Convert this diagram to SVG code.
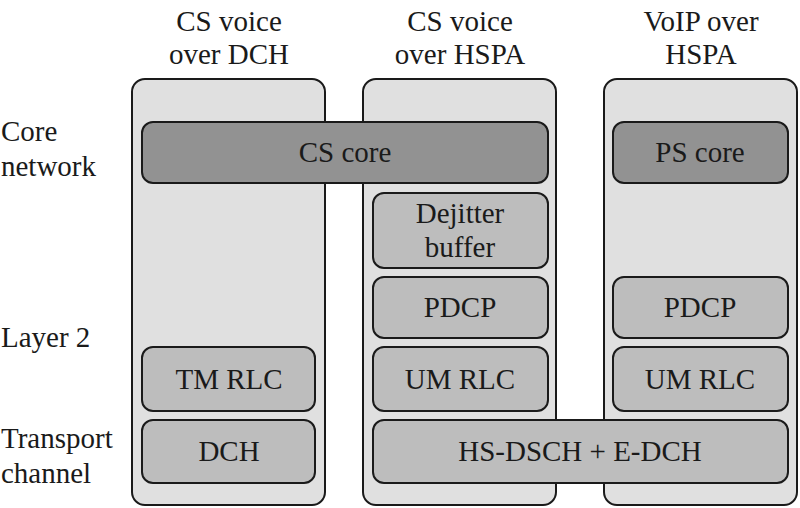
<svg xmlns="http://www.w3.org/2000/svg" width="800" height="508" viewBox="0 0 800 508">
<style>
.col{fill:#e0e0e0;stroke:#1a1a1a;stroke-width:2}
.dk{fill:#929292;stroke:#1a1a1a;stroke-width:2}
.lt{fill:#bdbdbd;stroke:#1a1a1a;stroke-width:2}
</style>
<rect width="800" height="508" fill="#fff"/>
<g id="labels" font-family="Liberation Serif, serif" font-size="29" fill="#1a1a1a">
<text x="1" y="141">Core</text>
<text x="1" y="176">network</text>
<text x="1" y="347">Layer 2</text>
<text x="1" y="448">Transport</text>
<text x="1" y="483">channel</text>
</g>
<g id="col1">
<rect class="col" x="132" y="79" width="193" height="426" rx="13"/>
<g font-family="Liberation Serif, serif" font-size="29" fill="#1a1a1a" text-anchor="middle">
<text x="229" y="31">CS voice</text>
<text x="229" y="64">over DCH</text>
</g>
</g>
<g id="col2">
<rect class="col" x="363" y="79" width="193" height="426" rx="13"/>
<g font-family="Liberation Serif, serif" font-size="29" fill="#1a1a1a" text-anchor="middle">
<text x="460" y="31">CS voice</text>
<text x="460" y="64">over HSPA</text>
</g>
</g>
<g id="col3">
<rect class="col" x="604" y="79" width="193" height="426" rx="13"/>
<g font-family="Liberation Serif, serif" font-size="29" fill="#1a1a1a" text-anchor="middle">
<text x="701" y="31">VoIP over</text>
<text x="701" y="64">HSPA</text>
</g>
</g>
<g font-family="Liberation Serif, serif" font-size="29" fill="#1a1a1a" text-anchor="middle">
<g id="cscore"><rect class="dk" x="142" y="122" width="406" height="61" rx="11"/><text x="345" y="162">CS core</text></g>
<g id="pscore"><rect class="dk" x="613" y="122" width="175" height="61" rx="11"/><text x="700" y="162">PS core</text></g>
<g id="dejitter"><rect class="lt" x="373" y="193" width="175" height="75" rx="11"/><text x="460" y="223">Dejitter</text><text x="460" y="257">buffer</text></g>
<g id="pdcp2"><rect class="lt" x="373" y="277" width="175" height="61" rx="11"/><text x="460" y="317">PDCP</text></g>
<g id="pdcp3"><rect class="lt" x="613" y="277" width="175" height="61" rx="11"/><text x="700" y="317">PDCP</text></g>
<g id="tmrlc"><rect class="lt" x="142" y="347" width="173" height="64" rx="11"/><text x="229" y="389">TM RLC</text></g>
<g id="umrlc2"><rect class="lt" x="373" y="347" width="175" height="64" rx="11"/><text x="460" y="389">UM RLC</text></g>
<g id="umrlc3"><rect class="lt" x="613" y="347" width="175" height="64" rx="11"/><text x="700" y="389">UM RLC</text></g>
<g id="dch"><rect class="lt" x="142" y="420" width="173" height="63" rx="11"/><text x="229" y="461">DCH</text></g>
<g id="hsdsch"><rect class="lt" x="373" y="420" width="415" height="63" rx="11"/><text x="580" y="461">HS-DSCH + E-DCH</text></g>
</g>
<g id="connectors"></g>
</svg>
